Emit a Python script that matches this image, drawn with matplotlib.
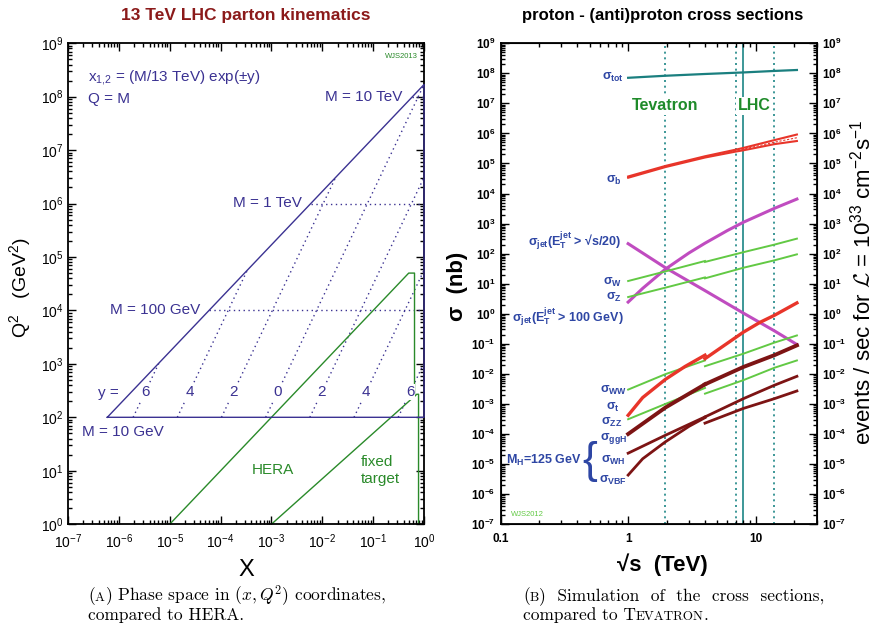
import numpy as np
import matplotlib.pyplot as plt
from matplotlib.ticker import LogLocator, NullFormatter
from matplotlib.offsetbox import TextArea, HPacker, AnnotationBbox

plt.rcParams['font.family'] = ['Liberation Sans', 'DejaVu Sans']
plt.rcParams['mathtext.default'] = 'regular'

# ---------------- left panel: 13 TeV parton kinematics ----------------
SQRT_S_GEV = 13000.0
masses_gev = [10, 100, 1000, 10000]
rapidities = [6, 4, 2, 0, -2, -4, -6]
hera_x = [1e-5, 0.5, 0.65, 0.65]
hera_q2 = [1.0, 5e4, 5e4, 250]
fixed_x = [1e-3, 0.72, 0.78, 0.78]
fixed_q2 = [1.0, 270, 270, 1.0]
q2_label_level = 300

# ---------------- right panel: cross sections (nb) ----------------
tot_x = [1, 1.96, 4, 8, 14, 21]
sig_tot = [7.1e7, 8.3e7, 9.5e7, 1.07e8, 1.2e8, 1.29e8]

b_x = [1, 1.96, 4, 7, 8, 14, 21]
sig_b_hi = [3.7e4, 8.3e4, 1.74e5, 2.9e5, 3.3e5, 6.0e5, 9.2e5]
sig_b_mid = [3.5e4, 7.9e4, 1.66e5, 2.7e5, 3.0e5, 5.1e5, 7.2e5]
sig_b_lo = [3.35e4, 7.6e4, 1.58e5, 2.5e5, 2.75e5, 4.4e5, 5.6e5]

jet20_x = [1, 1.96, 4, 8, 14, 21]
sig_jet20 = [215, 34, 5.9, 1.05, 0.27, 0.095]
jet100_x = [1, 1.3, 1.96, 3, 4, 6, 8, 14, 21]
sig_jet100 = [2.45, 7.0, 30.7, 106, 223, 590, 1110, 3220, 6550]

ppbar_x = [1, 1.96, 4]
pp_x = [4, 8, 14, 21]
sig_w_ppbar = [12.3, 25.7, 57]
sig_w_pp = [53, 112, 200, 316]
sig_z_ppbar = [3.6, 7.4, 16.2]
sig_z_pp = [15.1, 34, 60, 95]
sig_ww_ppbar = [3.0e-3, 9.8e-3, 2.8e-2]
sig_ww_pp = [1.8e-2, 4.7e-2, 0.11, 0.19]
sig_zz_ppbar = [3.1e-4, 1.0e-3, 3.4e-3]
sig_zz_pp = [2.2e-3, 6.2e-3, 1.6e-2, 2.8e-2]

top_ppbar_x = [1, 1.3, 1.96, 2.79, 4]
sig_t_ppbar = [4.2e-4, 1.63e-3, 6.6e-3, 1.76e-2, 4.2e-2]
top_pp_x = [4, 8, 10.8, 14, 21]
sig_t_pp = [3.2e-2, 0.245, 0.52, 0.89, 2.3]

sig_ggh_ppbar = [1.0e-4, 7.6e-4, 4.5e-3]
sig_ggh_pp = [4.5e-3, 1.7e-2, 4.2e-2, 8.9e-2]
sig_wh_ppbar = [2.3e-5, 9.1e-5, 3.7e-4]
sig_wh_pp = [2.3e-4, 7.1e-4, 1.5e-3, 2.7e-3]
vbf_ppbar_x = [1, 1.3, 1.96, 3, 4]
sig_vbf_ppbar = [4.3e-6, 1.5e-5, 5.5e-5, 1.8e-4, 3.5e-4]
sig_vbf_pp = [3.7e-4, 1.5e-3, 4.2e-3, 8.3e-3]

collider_dotted = [1.96, 7, 14]
lhc_run = 8

BLUE_L = '#3b3292'
GREEN_L = '#2a8a2a'
BLUE_R = '#2e46a4'
TEAL = '#1b8585'
RED = '#e8352a'
MAGENTA = '#c04cc0'
LGREEN = '#62c944'
DRED = '#7d1414'


def setup_log_axis(ax, xlim, ylim, xdec, ydec, size, weight):
    ax.set_xscale('log')
    ax.set_yscale('log')
    ax.set_xlim(*xlim)
    ax.set_ylim(*ylim)
    ax.set_xticks([10.0 ** d for d in xdec])
    ax.set_yticks([10.0 ** d for d in ydec])
    for axis in (ax.xaxis, ax.yaxis):
        axis.set_minor_locator(LogLocator(base=10, subs=np.arange(2, 10), numticks=200))
        axis.set_minor_formatter(NullFormatter())
    ax.tick_params(which='both', direction='in', top=True, right=True, width=1)
    ax.tick_params(which='major', length=6, labelsize=size)
    ax.tick_params(which='minor', length=3)
    ax.tick_params(axis='x', pad=6)
    for sp in ax.spines.values():
        sp.set_linewidth(1.3)
    ax.set_yticklabels(['$10^{%d}$' % d for d in ydec], fontweight=weight)


def draw_kinematics(ax):
    x_min = (masses_gev[0] / SQRT_S_GEV) ** 2
    q2_max = SQRT_S_GEV ** 2
    ax.plot([x_min, 1, 1, x_min], [masses_gev[0] ** 2, q2_max, masses_gev[0] ** 2, masses_gev[0] ** 2],
            color=BLUE_L, lw=1, clip_on=False, zorder=3)
    for m in masses_gev[1:]:
        ax.plot([(m / SQRT_S_GEV) ** 2, 1], [m ** 2, m ** 2], color=BLUE_L, lw=1,
                ls=(0, (1, 2.5)), zorder=2)
    for y in rapidities:
        q = np.array([masses_gev[0], SQRT_S_GEV * np.exp(-abs(y))])
        ax.plot(q / SQRT_S_GEV * np.exp(-y), q ** 2, color=BLUE_L, lw=1,
                ls=(0, (1, 2.5)), zorder=2)
        xl = np.sqrt(q2_label_level) / SQRT_S_GEV * np.exp(-y)
        ax.text(xl, q2_label_level, str(abs(y)), color=BLUE_L, fontsize=11, ha='center', va='center',
                bbox=dict(facecolor='white', edgecolor='none', pad=0.5), zorder=5)
    ax.plot(hera_x, hera_q2, color=GREEN_L, lw=1, zorder=2)
    ax.plot(fixed_x, fixed_q2, color=GREEN_L, lw=1, zorder=2)

    kw = dict(color=BLUE_L, fontsize=11, transform=ax.transAxes, va='center')
    ax.text(0.056, 0.929, 'x$_{1{,}2}$ = (M/13 TeV) exp(±y)', ha='left', **kw)
    ax.text(0.056, 0.884, 'Q = M', ha='left', **kw)
    ax.text(0.938, 0.888, 'M = 10 TeV', ha='right', **kw)
    ax.text(0.657, 0.667, 'M = 1 TeV', ha='right', **kw)
    ax.text(0.371, 0.445, 'M = 100 GeV', ha='right', **kw)
    ax.text(0.039, 0.191, 'M = 10 GeV', ha='left', **kw)
    ax.text(0.112, 0.272, 'y =', ha='center', **kw)
    ax.text(0.576, 0.112, 'HERA', color=GREEN_L, fontsize=11, transform=ax.transAxes,
            ha='center', va='center')
    ax.text(0.823, 0.112, 'fixed\ntarget', color=GREEN_L, fontsize=11, transform=ax.transAxes,
            ha='left', va='center', linespacing=1.25)
    ax.text(0.983, 0.973, 'WJS2013', color=GREEN_L, fontsize=5.5, transform=ax.transAxes,
            ha='right', va='center')


def draw_cross_sections(ax):
    for e in collider_dotted:
        ax.axvline(e, color=TEAL, lw=1.2, ls=(0, (1.2, 2.2)), zorder=1)
    ax.axvline(lhc_run, color=TEAL, lw=1.2, zorder=1)

    ax.plot(tot_x, sig_tot, color='#1a7f7f', lw=1.6)
    ax.plot(b_x, sig_b_hi, color=RED, lw=1.5)
    ax.plot(b_x, sig_b_lo, color=RED, lw=1.5)
    ax.plot(b_x, sig_b_mid, color=RED, lw=0.8, ls=(0, (2, 1.5)))

    ax.plot(jet20_x, sig_jet20, color=MAGENTA, lw=2.2)
    ax.plot(jet100_x, sig_jet100, color=MAGENTA, lw=2.2)

    for lo, hi in [(sig_w_ppbar, sig_w_pp), (sig_z_ppbar, sig_z_pp),
                   (sig_ww_ppbar, sig_ww_pp), (sig_zz_ppbar, sig_zz_pp)]:
        ax.plot(ppbar_x, lo, color=LGREEN, lw=1.4)
        ax.plot(pp_x, hi, color=LGREEN, lw=1.4)

    ax.plot(top_ppbar_x, sig_t_ppbar, color=RED, lw=2.4)
    ax.plot(top_pp_x, sig_t_pp, color=RED, lw=2.4)

    ax.plot(ppbar_x, sig_ggh_ppbar, color=DRED, lw=2.8)
    ax.plot(pp_x, sig_ggh_pp, color=DRED, lw=2.8)
    ax.plot(ppbar_x, sig_wh_ppbar, color=DRED, lw=2)
    ax.plot(pp_x, sig_wh_pp, color=DRED, lw=2)
    ax.plot(vbf_ppbar_x, sig_vbf_ppbar, color=DRED, lw=2)
    ax.plot(pp_x, sig_vbf_pp, color=DRED, lw=2)

    box = dict(facecolor='white', edgecolor='none', pad=1)
    ax.text(0.520, 0.870, 'Tevatron', color='#1f8b2a', fontsize=11.5, fontweight='bold',
            transform=ax.transAxes, ha='center', va='center', bbox=box, zorder=5)
    ax.text(0.802, 0.870, 'LHC', color='#1f8b2a', fontsize=11.5, fontweight='bold',
            transform=ax.transAxes, ha='center', va='center', bbox=box, zorder=5)

    labels = [
        ('σ$_{tot}$', 0.391, 0.929),
        ('σ$_{b}$', 0.384, 0.715),
        ('σ$_{jet}$(E$_T^{jet}$ > √s/20)', 0.383, 0.587),
        ('σ$_{W}$', 0.384, 0.503),
        ('σ$_{Z}$', 0.384, 0.472),
        ('σ$_{jet}$(E$_T^{jet}$ > 100 GeV)', 0.391, 0.428),
        ('σ$_{WW}$', 0.400, 0.278),
        ('σ$_{t}$', 0.378, 0.243),
        ('σ$_{ZZ}$', 0.384, 0.2125),
        ('σ$_{ggH}$', 0.400, 0.179),
        ('σ$_{WH}$', 0.396, 0.133),
        ('σ$_{VBF}$', 0.400, 0.091),
        ('M$_H$=125 GeV', 0.257, 0.133),
    ]
    for text, fx, fy in labels:
        ax.text(fx, fy, text, color=BLUE_R, fontsize=9, fontweight='bold',
                transform=ax.transAxes, ha='right', va='center')
    ax.text(0.283, 0.131, '{', color=BLUE_R, fontsize=32, transform=ax.transAxes,
            ha='center', va='center')
    ax.text(0.033, 0.021, 'WJS2012', color=LGREEN, fontsize=5.5, transform=ax.transAxes,
            ha='left', va='center')


def caption_line(fig, x, y, pieces):
    boxes = [TextArea(t, textprops=dict(fontsize=s, family='cmr10', math_fontfamily='cm'))
             for t, s in pieces]
    row = HPacker(children=boxes, align='baseline', pad=0, sep=0)
    fig.add_artist(AnnotationBbox(row, (x, y), xycoords='figure fraction',
                                  box_alignment=(0, 0.5), frameon=False, pad=0))


fig = plt.figure(figsize=(8.79, 6.27), dpi=100)
axL = fig.add_axes([0.0774, 0.164, 0.405, 0.767])
axR = fig.add_axes([0.5694, 0.164, 0.3597, 0.767])

setup_log_axis(axL, (1e-7, 1), (1, 1e9), range(-7, 1), range(0, 10), 10, 'normal')
axL.set_xticklabels(['$10^{%d}$' % d for d in range(-7, 1)])
draw_kinematics(axL)

setup_log_axis(axR, (0.1, 30), (1e-7, 1e9), [-1, 0, 1], range(-7, 10), 8.5, 'bold')
axR.set_xticklabels(['0.1', '1', '10'], fontweight='bold')
axR.tick_params(right=False)
axR2 = axR.twinx()
axR2.set_yscale('log')
axR2.set_ylim(1e-7, 1e9)
axR2.set_yticks([10.0 ** d for d in range(-7, 10)])
axR2.set_yticklabels(['$10^{%d}$' % d for d in range(-7, 10)], fontweight='bold')
axR2.yaxis.set_minor_locator(LogLocator(base=10, subs=np.arange(2, 10), numticks=200))
axR2.yaxis.set_minor_formatter(NullFormatter())
axR2.tick_params(which='both', direction='in', width=1, labelsize=8.5)
axR2.tick_params(which='major', length=6)
axR2.tick_params(which='minor', length=3)
draw_cross_sections(axR)

fig.text(0.280, 0.976, '13 TeV LHC parton kinematics', color='#8b1a1a', fontsize=12.5,
         fontweight='bold', ha='center', va='center')
fig.text(0.754, 0.976, 'proton - (anti)proton cross sections', fontsize=12,
         fontweight='bold', ha='center', va='center')
fig.text(0.0228, 0.541, 'Q$^2$   (GeV$^2$)', fontsize=14, rotation=90, ha='center', va='center')
fig.text(0.280, 0.091, 'X', fontsize=17, ha='center', va='center')
fig.text(0.521, 0.544, 'σ  (nb)', fontsize=16, fontweight='bold', rotation=90,
         ha='center', va='center')
fig.text(0.753, 0.100, '√s  (TeV)', fontsize=16, fontweight='bold', ha='center', va='center')
fig.text(0.981, 0.550, r'events / sec for $\mathcal{L}$ = 10$^{33}$ cm$^{-2}$s$^{-1}$', fontsize=16,
         rotation=90, ha='center', va='center', math_fontfamily='cm')

caption_line(fig, 0.100, 0.0494, [('(', 12.5), ('A', 9.5),
                                  (r') Phase space in $(\mathit{x}, \mathit{Q}^2)$ coordinates,', 12.5)])
caption_line(fig, 0.100, 0.019, [('compared to HERA.', 12.5)])
caption_line(fig, 0.595, 0.0494, [('(', 12.5), ('B', 9.5), (')  Simulation  of  the  cross  sections,', 12.5)])
caption_line(fig, 0.595, 0.019, [('compared to T', 12.5), ('EVATRON', 9.5), ('.', 12.5)])

fig.savefig('out.png', dpi=100)
